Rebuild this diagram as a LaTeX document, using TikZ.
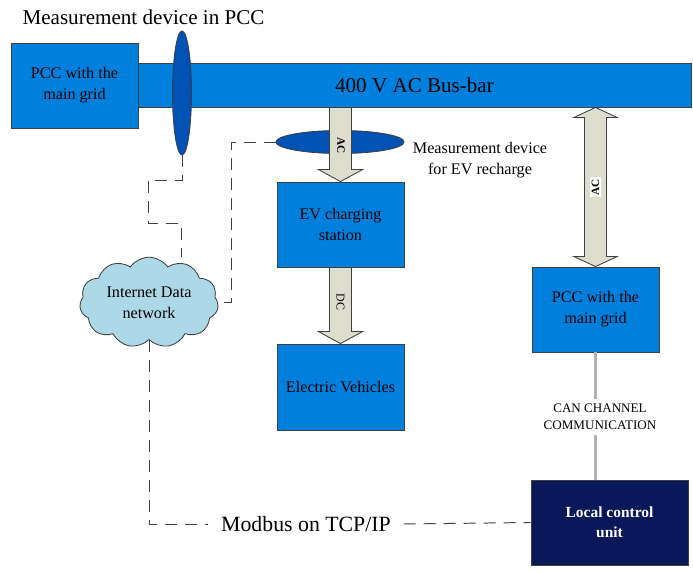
\documentclass[tikz,border=0pt]{standalone}
\usepackage{fontspec}
\setmainfont{Liberation Serif}
\usetikzlibrary{calc,shapes.geometric,shapes.symbols}
\definecolor{boxblue}{RGB}{0,128,220}
\definecolor{meterblue}{RGB}{0,82,180}
\definecolor{cloudblue}{RGB}{172,216,232}
\definecolor{arrowgray}{RGB}{221,221,206}
\definecolor{lcunavy}{RGB}{8,24,88}
\tikzset{
  bluebox/.style={draw=black!75, fill=boxblue, line width=0.6pt, minimum width=3.175cm,
    minimum height=2.125cm, align=center, inner sep=0pt, font=\fontsize{11.5}{15}\selectfont},
  meter/.style={ellipse, draw=black!75, fill=meterblue, line width=0.6pt, inner sep=0pt},
  blockarrow/.style={draw=black!75, fill=arrowgray, line width=0.6pt},
  arrowlabel/.style={rotate=-90, inner sep=1pt, text=black, font=\fontsize{8}{9}\selectfont\bfseries},
  datalink/.style={draw=black!75, line width=0.7pt, dash pattern=on 8.5pt off 5.7pt},
  canlink/.style={draw=black!30, line width=1.5pt},
}
% block arrow, from -- to, pointing down
\newcommand\blockdown[2]{%
  \draw[blockarrow] ($(#1)+(-11,0)$) -- ($(#2)+(-11,-12)$) -- ($(#2)+(-22,-12)$) -- (#2)
    -- ($(#2)+(22,-12)$) -- ($(#2)+(11,-12)$) -- ($(#1)+(11,0)$) -- cycle;}
% block arrow with two heads
\newcommand\blockboth[2]{%
  \draw[blockarrow] (#1) -- ($(#1)+(21.5,10)$) -- ($(#1)+(11,10)$) -- ($(#2)+(11,-10)$)
    -- ($(#2)+(21.5,-10)$) -- (#2) -- ($(#2)+(-21.5,-10)$) -- ($(#2)+(-11,-10)$)
    -- ($(#1)+(-11,10)$) -- ($(#1)+(-21.5,10)$) -- cycle;}
\begin{document}
\begin{tikzpicture}[x=0.025cm, y=-0.025cm]
  \useasboundingbox (0,0) rectangle (693,572);

  % grid side
  \node[font=\fontsize{15}{18}\selectfont] (title) at (143.5,17) {Measurement device in PCC};
  \node[bluebox] (pccl) at (74.5,85.5) {PCC with the\\main grid};
  \node[bluebox, minimum width=13.825cm, minimum height=1.1cm, font=\fontsize{15}{18}\selectfont]
    (bus) at (414.5,85) {400 V AC Bus-bar};
  \node[meter, minimum width=0.475cm, minimum height=3.1cm] (pccmeter) at (182,93) {};

  % EV branch
  \node[meter, minimum width=3.2cm, minimum height=0.575cm] (evmeter) at (340,142) {};
  \node[align=center, font=\fontsize{11.5}{15}\selectfont] (evmeterlbl) at (480,160)
    {Measurement device\\for EV recharge};
  \node[bluebox] (evcs) at (340.5,224.5) {EV charging\\station};
  \node[bluebox, minimum height=2.15cm] (ev) at (340.5,387) {Electric Vehicles};
  \coordinate (evtop) at (bus.south -| evcs.north);
  \blockdown{evtop}{evcs.north}
  \node[arrowlabel] (aclbl) at (341,146) {AC};
  \blockdown{evcs.south}{ev.north}
  \node[arrowlabel, font=\fontsize{8.5}{9}\selectfont] (dclbl) at (340.5,302) {DC};

  % local control side
  \node[bluebox] (pccr) at (595.5,309.5) {PCC with the\\main grid};
  \node[bluebox, fill=lcunavy, text=white, minimum width=3.925cm,
    font=\fontsize{11}{14}\selectfont\bfseries] (lcu) at (609.5,522.5) {Local control\\unit};
  \coordinate (pcctop) at (bus.south -| pccr.north);
  \blockboth{pcctop}{pccr.north}
  \node[arrowlabel, rotate=180, fill=white] (ac2lbl) at (595.5,187) {AC};
  \node[align=center, font=\fontsize{9.3}{11.8}\selectfont] (can) at (600,417)
    {CAN CHANNEL\\COMMUNICATION};
  \draw[canlink] (pccr.south) -- (pccr.south |- can.north);
  \draw[canlink] (pccr.south |- can.south) -- (pccr.south |- lcu.north);

  % data network
  \node[cloud, cloud puffs=11, cloud puff arc=110, aspect=1.8, draw=black!75, fill=cloudblue,
    line width=0.6pt, minimum width=3.15cm, minimum height=1.9cm, align=center,
    font=\fontsize{11.5}{15}\selectfont] (cloud) at (149,302.5) {Internet Data\\network};
  \node[font=\fontsize{15.5}{18}\selectfont, inner sep=9pt] (modbus) at (306,524) {Modbus on TCP/IP};
  \coordinate (pcctap) at (181,223);
  \draw[datalink] (pccmeter.south) |- (148,180) |- (pcctap) -- (pcctap |- cloud.north);
  \draw[datalink] (evmeter.west) -- ++(-44,0) |- (cloud.east);
  \draw[datalink] (cloud.south) |- (modbus.west);
  \draw[datalink] (modbus.east) -- (lcu.west);
\end{tikzpicture}
\end{document}
